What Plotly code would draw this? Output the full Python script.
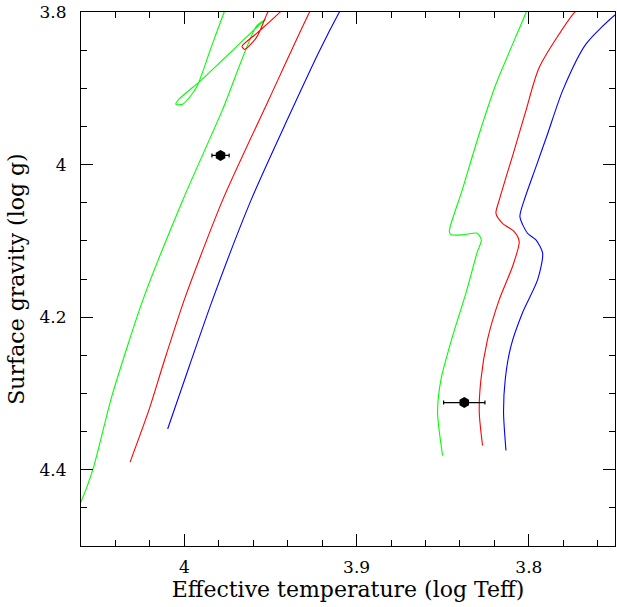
import plotly.graph_objects as go

# ---- data (log Teff, log g) ----
green_hot_x = [4.063, 4.060, 4.053, 4.042, 4.024, 4.001, 3.978, 3.958, 3.953, 3.957, 3.970, 3.990, 4.003, 4.005, 4.001, 3.993, 3.985, 3.977, 3.973]
green_hot_y = [4.455, 4.442, 4.399, 4.303, 4.177, 4.047, 3.929, 3.818, 3.810, 3.818, 3.846, 3.889, 3.914, 3.921, 3.921, 3.899, 3.850, 3.801, 3.780]

red_hot_x = [4.0315, 4.0203, 4.0126, 4.0000, 3.9778, 3.951, 3.9275, 3.920, 3.932, 3.9449, 3.958, 3.9665, 3.9650, 3.958, 3.9518, 3.948]
red_hot_y = [4.390, 4.320, 4.264, 4.177, 4.0466, 3.915, 3.801, 3.770, 3.770, 3.8012, 3.828, 3.8450, 3.849, 3.833, 3.8012, 3.785]

blue_hot_x = [4.0097, 3.9971, 3.9836, 3.9613, 3.9400, 3.9216, 3.9100, 3.905]
blue_hot_y = [4.3466, 4.264, 4.177, 4.0466, 3.940, 3.851, 3.800, 3.780]

green_cool_x = [3.800, 3.8017, 3.8191, 3.8288, 3.8387, 3.8462, 3.8450, 3.8380, 3.8300, 3.8276, 3.8300, 3.8365, 3.8443, 3.8510, 3.8530, 3.8501]
green_cool_y = [3.790, 3.801, 3.8944, 3.9596, 4.0335, 4.0879, 4.0920, 4.0920, 4.0900, 4.0990, 4.1150, 4.1683, 4.2249, 4.2813, 4.3248, 4.3814]

red_cool_x = [3.770, 3.7737, 3.7940, 3.8017, 3.8085, 3.8172, 3.8191, 3.8153, 3.8085, 3.8056, 3.8095, 3.8172, 3.8240, 3.8278, 3.8288, 3.8269]
red_cool_y = [3.795, 3.801, 3.8727, 3.9292, 3.9813, 4.0466, 4.0639, 4.0770, 4.0879, 4.1010, 4.1336, 4.1770, 4.2292, 4.2813, 4.3248, 4.3683]

blue_cool_x = [3.746, 3.7495, 3.7669, 3.7804, 3.7891, 3.7959, 3.8027, 3.8052, 3.8008, 3.7959, 3.7920, 3.7949, 3.8037, 3.8104, 3.8137, 3.8147, 3.8133]
blue_cool_y = [3.799, 3.803, 3.8422, 3.9031, 3.9596, 4.0031, 4.0466, 4.0683, 4.0900, 4.0987, 4.1161, 4.1509, 4.1943, 4.2379, 4.2813, 4.3248, 4.3749]

star_teff = [3.979, 3.8375]
star_teff_err = [0.005, 0.012]
star_logg = [3.988, 4.312]

x_tickvals = [4.0, 3.9, 3.8]
x_ticktext = ["4", "3.9", "3.8"]
y_tickvals = [3.8, 4.0, 4.2, 4.4]
y_ticktext = ["3.8", "4", "4.2", "4.4"]

fig = go.Figure()
tracks = [
    (green_hot_x, green_hot_y, "#00ff00"),
    (red_hot_x, red_hot_y, "#ff0000"),
    (blue_hot_x, blue_hot_y, "#0000ff"),
    (green_cool_x, green_cool_y, "#00ff00"),
    (red_cool_x, red_cool_y, "#ff0000"),
    (blue_cool_x, blue_cool_y, "#0000ff"),
]
for xs, ys, c in tracks:
    fig.add_trace(go.Scatter(x=xs, y=ys, mode="lines",
                             line=dict(color=c, width=1.1, shape="spline", smoothing=0.7),
                             showlegend=False, hoverinfo="skip"))

fig.add_trace(go.Scatter(
    x=star_teff, y=star_logg, mode="markers",
    marker=dict(symbol="hexagon", size=11, color="black"),
    error_x=dict(type="data", array=star_teff_err, color="black", thickness=1.2, width=2),
    showlegend=False))

font_family = "DejaVu Serif"
axis_common = dict(
    showline=True, linecolor="black", linewidth=1, mirror="allticks",
    ticks="inside", ticklen=12, tickwidth=1, tickcolor="black",
    showgrid=False, zeroline=False,
    tickfont=dict(family=font_family, size=17, color="black"),
)
fig.update_xaxes(
    range=[4.06, 3.75], tickmode="array", tickvals=x_tickvals, ticktext=x_ticktext,
    minor=dict(dtick=0.02, tick0=4.0, ticks="inside", ticklen=6, tickcolor="black", showgrid=False),
    title=dict(text="Effective temperature (log Teff)", font=dict(family=font_family, size=22, color="black"), standoff=4),
    ticklabelstandoff=6,
    **axis_common)
fig.update_yaxes(
    range=[4.5, 3.8], tickmode="array", tickvals=y_tickvals, ticktext=y_ticktext,
    minor=dict(dtick=0.05, tick0=3.8, ticks="inside", ticklen=6, tickcolor="black", showgrid=False),
    title=dict(text="Surface gravity (log g)", font=dict(family=font_family, size=22, color="black"), standoff=8),
    ticklabelstandoff=10,
    **axis_common)

fig.update_layout(
    width=617, height=607,
    margin=dict(l=81, r=2, t=12, b=61),
    plot_bgcolor="white", paper_bgcolor="white",
)
fig.write_html("out.html")
